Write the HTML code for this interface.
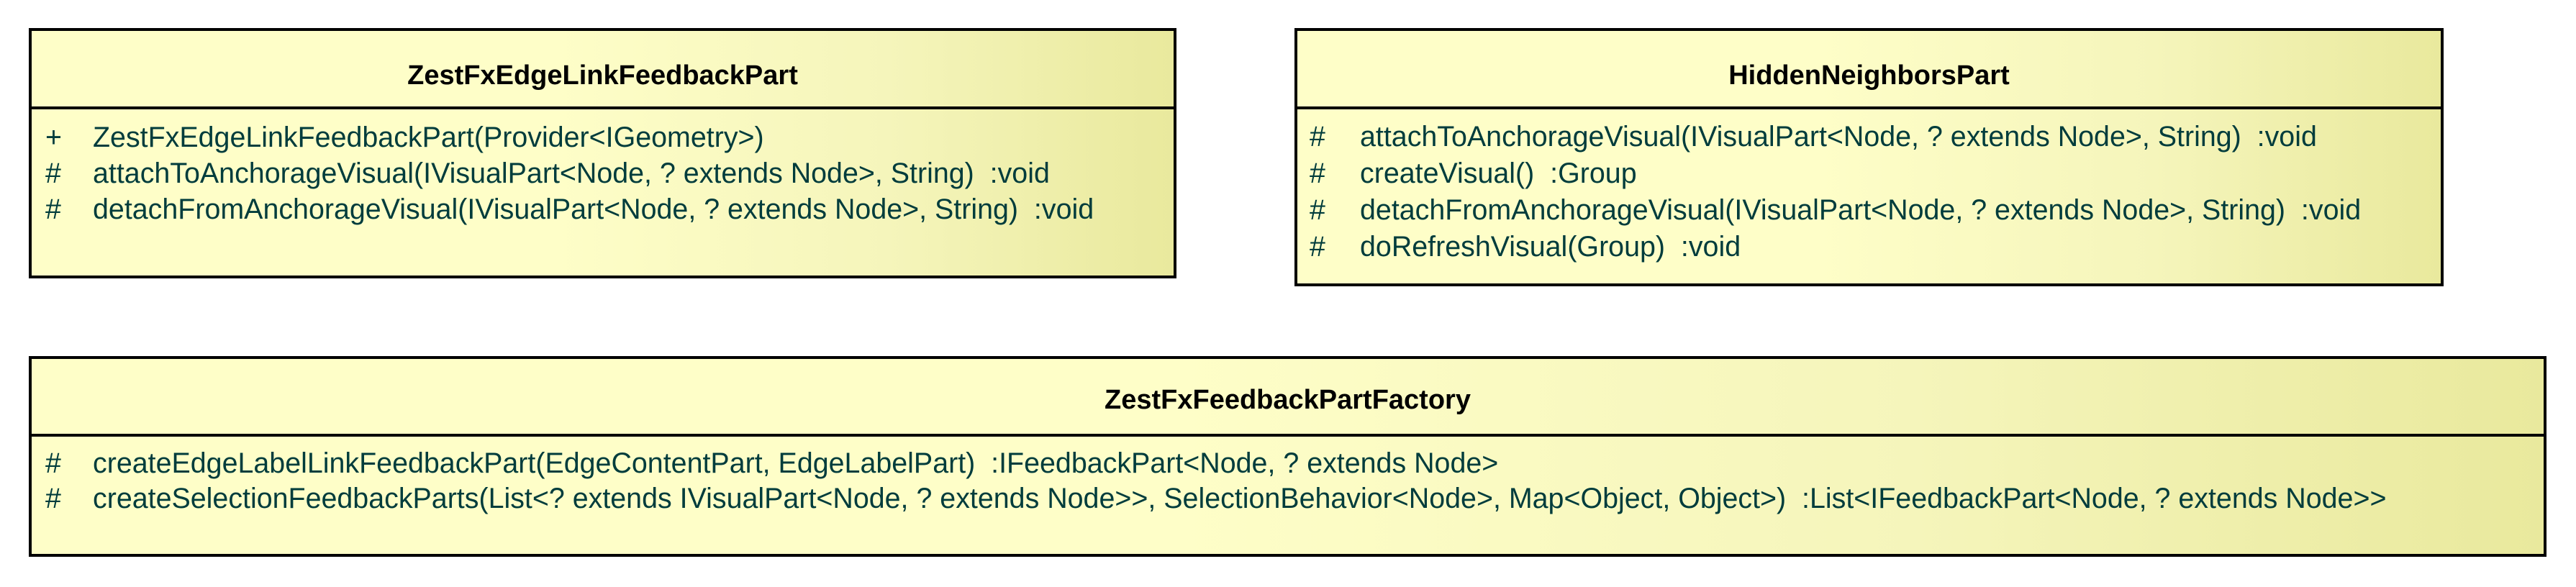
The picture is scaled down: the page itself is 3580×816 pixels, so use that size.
<!DOCTYPE html>
<html><head><meta charset="utf-8"><style>
html,body{margin:0;padding:0;background:#fff;width:3580px;height:816px;overflow:hidden;position:relative;font-family:"Liberation Sans",Arial,sans-serif;}
.box{position:absolute;box-sizing:border-box;border:4px solid #000;background:linear-gradient(to right,#fefec8 0%,#fefec8 45%,#f5f5bb 75%,#e9e99d 100%);}
.title{position:absolute;left:0;right:0;text-align:center;font-weight:bold;font-size:38px;color:#000;}
.div{position:absolute;left:0;right:0;height:4px;background:#000;}
.row{position:absolute;font-size:39.4px;color:#003c3c;white-space:pre;}
.sym{position:absolute;font-size:39.4px;color:#003c3c;}
</style></head><body>

<div class="box" style="left:40px;top:39px;width:1595px;height:348px;">
  <div class="title" style="top:41px;">ZestFxEdgeLinkFeedbackPart</div>
  <div class="div" style="top:105px;"></div>
  <div class="sym" style="left:19px;top:126px;">+</div><div class="row" style="left:85px;top:126px;">ZestFxEdgeLinkFeedbackPart(Provider&lt;IGeometry&gt;)</div>
  <div class="sym" style="left:19px;top:176px;">#</div><div class="row" style="left:85px;top:176px;">attachToAnchorageVisual(IVisualPart&lt;Node, ? extends Node&gt;, String)  :void</div>
  <div class="sym" style="left:19px;top:226px;">#</div><div class="row" style="left:85px;top:226px;">detachFromAnchorageVisual(IVisualPart&lt;Node, ? extends Node&gt;, String)  :void</div>
</div>

<div class="box" style="left:1799px;top:39px;width:1597px;height:359px;">
  <div class="title" style="top:41px;">HiddenNeighborsPart</div>
  <div class="div" style="top:105px;"></div>
  <div class="sym" style="left:17px;top:125px;">#</div><div class="row" style="left:87px;top:125px;">attachToAnchorageVisual(IVisualPart&lt;Node, ? extends Node&gt;, String)  :void</div>
  <div class="sym" style="left:17px;top:176px;">#</div><div class="row" style="left:87px;top:176px;">createVisual()  :Group</div>
  <div class="sym" style="left:17px;top:227px;">#</div><div class="row" style="left:87px;top:227px;">detachFromAnchorageVisual(IVisualPart&lt;Node, ? extends Node&gt;, String)  :void</div>
  <div class="sym" style="left:17px;top:278px;">#</div><div class="row" style="left:87px;top:278px;">doRefreshVisual(Group)  :void</div>
</div>

<div class="box" style="left:40px;top:495px;width:3499px;height:279px;">
  <div class="title" style="top:36px;">ZestFxFeedbackPartFactory</div>
  <div class="div" style="top:104px;"></div>
  <div class="sym" style="left:19px;top:123px;">#</div><div class="row" style="left:85px;top:123px;">createEdgeLabelLinkFeedbackPart(EdgeContentPart, EdgeLabelPart)  :IFeedbackPart&lt;Node, ? extends Node&gt;</div>
  <div class="sym" style="left:19px;top:172px;">#</div><div class="row" style="left:85px;top:172px;">createSelectionFeedbackParts(List&lt;? extends IVisualPart&lt;Node, ? extends Node&gt;&gt;, SelectionBehavior&lt;Node&gt;, Map&lt;Object, Object&gt;)  :List&lt;IFeedbackPart&lt;Node, ? extends Node&gt;&gt;</div>
</div>

</body></html>
